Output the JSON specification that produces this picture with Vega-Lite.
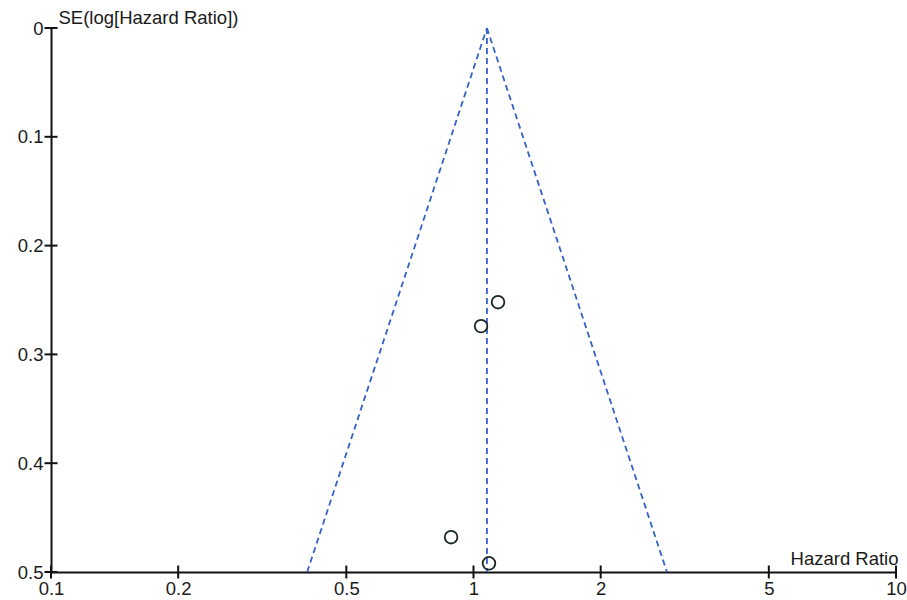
{
  "$schema": "https://vega.github.io/schema/vega-lite/v6.json",
  "width": 845,
  "height": 544,
  "autosize": "none",
  "padding": {"left": 51, "top": 28, "right": 11, "bottom": 28},
  "background": "white",
  "config": {"view": {"stroke": null}, "font": "Liberation Sans"},
  "datasets": {
    "funnel": [
      {"line": "left", "hr": 0.404, "se": 0.5},
      {"line": "left", "hr": 1.076, "se": 0},
      {"line": "right", "hr": 1.076, "se": 0},
      {"line": "right", "hr": 2.87, "se": 0.5},
      {"line": "center", "hr": 1.076, "se": 0},
      {"line": "center", "hr": 1.076, "se": 0.5}
    ],
    "studies": [
      {"hr": 1.143, "se": 0.252},
      {"hr": 1.042, "se": 0.274},
      {"hr": 0.885, "se": 0.468},
      {"hr": 1.088, "se": 0.492}
    ],
    "xticks": [{"v": 0.1}, {"v": 0.2}, {"v": 0.5}, {"v": 1}, {"v": 2}, {"v": 5}, {"v": 10}],
    "yticks": [{"v": 0}, {"v": 0.1}, {"v": 0.2}, {"v": 0.3}, {"v": 0.4}, {"v": 0.5}]
  },
  "layer": [
    {
      "data": {"name": "funnel"},
      "mark": {"type": "line", "color": "#3462c9", "strokeWidth": 1.8, "strokeDash": [6, 4]},
      "encoding": {
        "x": {
          "field": "hr", "type": "quantitative",
          "scale": {"type": "log", "domain": [0.1, 10], "nice": false},
          "axis": {
            "values": [0.1, 0.2, 0.5, 1, 2, 5, 10],
            "labelExpr": "format(datum.value, '~g')",
            "grid": false, "ticks": false,
            "domainColor": "#111", "domainWidth": 2,
            "labelFontSize": 18.5, "labelColor": "#1a1a1a", "labelPadding": 7,
            "labelFlush": false, "labelOverlap": false,
            "title": "Hazard Ratio", "titleFontSize": 18.5, "titleFontWeight": "normal", "titleColor": "#1a1a1a",
            "titleX": 847, "titleY": -4, "titleAlign": "right", "titleBaseline": "bottom"
          }
        },
        "y": {
          "field": "se", "type": "quantitative",
          "scale": {"domain": [0, 0.5], "reverse": true, "nice": false, "zero": false},
          "axis": {
            "values": [0, 0.1, 0.2, 0.3, 0.4, 0.5],
            "labelExpr": "format(datum.value, '~g')",
            "grid": false, "ticks": false,
            "domainColor": "#111", "domainWidth": 2,
            "labelFontSize": 18.5, "labelColor": "#1a1a1a", "labelPadding": 8,
            "labelFlush": false, "labelOverlap": false,
            "title": "SE(log[Hazard Ratio])", "titleFontSize": 18.5, "titleFontWeight": "normal", "titleColor": "#1a1a1a",
            "titleAngle": 0, "titleX": 7, "titleY": -11, "titleAlign": "left", "titleBaseline": "middle"
          }
        },
        "detail": {"field": "line"}
      }
    },
    {
      "data": {"name": "xticks"},
      "mark": {"type": "tick", "orient": "vertical", "color": "#111", "size": 13, "thickness": 2, "opacity": 1},
      "encoding": {
        "x": {"field": "v", "type": "quantitative"},
        "y": {"datum": 0.5, "type": "quantitative"}
      }
    },
    {
      "data": {"name": "yticks"},
      "mark": {"type": "tick", "orient": "horizontal", "color": "#111", "size": 13, "thickness": 2, "opacity": 1},
      "encoding": {
        "x": {"datum": 0.1, "type": "quantitative"},
        "y": {"field": "v", "type": "quantitative"}
      }
    },
    {
      "data": {"name": "studies"},
      "mark": {"type": "point", "shape": "circle", "filled": false, "color": "#1c2626", "size": 160, "strokeWidth": 1.8, "opacity": 1},
      "encoding": {
        "x": {"field": "hr", "type": "quantitative"},
        "y": {"field": "se", "type": "quantitative"}
      }
    }
  ]
}
